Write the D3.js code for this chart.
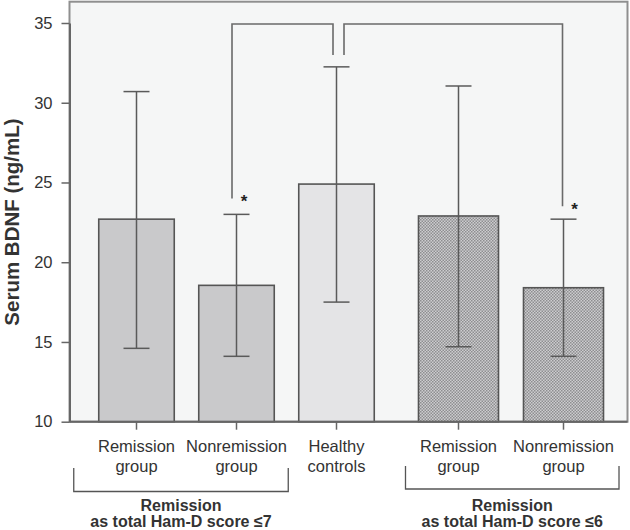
<!DOCTYPE html>
<html><head><meta charset="utf-8">
<script src="https://cdn.jsdelivr.net/npm/d3@7"></script>
<style>
html,body{margin:0;padding:0;background:#fff;}
svg{display:block;font-family:"Liberation Sans",Arial,sans-serif;}
</style></head>
<body>
<svg id="chart" width="630" height="530"></svg>
<script>
// ---- data ----
const categories = ["rem7", "non7", "healthy", "rem6", "non6"];
const groupOf = [0, 0, 0, 1, 1];
const labelLine1 = ["Remission", "Nonremission", "Healthy", "Remission", "Nonremission"];
const labelLine2 = ["group", "group", "controls", "group", "group"];
const means = [22.7, 18.55, 24.9, 22.9, 18.4];
const errUpper = [30.7, 23.0, 32.25, 31.05, 22.7];
const errLower = [14.6, 14.1, 17.5, 14.7, 14.1];
const yTicks = [10, 15, 20, 25, 30, 35];
const groupTitle1 = ["Remission", "Remission"];
const groupTitle2 = ["as total Ham-D score \u22647", "as total Ham-D score \u22646"];
const yTitle = "Serum BDNF (ng/mL)";
const sigPairs = [["non7", "healthy"], ["non6", "healthy"]];

// ---- styles ----
const fillStyle = ["solid", "solid", "light", "pattern", "pattern"];
const svg = d3.select("#chart");
const defs = svg.append("defs");
const pat = defs.append("pattern").attr("id", "chk").attr("patternUnits", "userSpaceOnUse")
  .attr("width", 3).attr("height", 3);
pat.append("rect").attr("width", 3).attr("height", 3).attr("fill", "#cdcdcf");
pat.append("rect").attr("width", 1.5).attr("height", 1.5).attr("fill", "#8e8e90");
pat.append("rect").attr("x", 1.5).attr("y", 1.5).attr("width", 1.5).attr("height", 1.5).attr("fill", "#8e8e90");
const fillColor = s => s === "solid" ? "#c9c9cb" : s === "light" ? "#e4e4e6" : "url(#chk)";

// ---- scales ----
const y = d3.scaleLinear().domain([10, 35]).range([421.7, 23]);
const plotLeft = 69.5, plotRight = 627.5, plotTop = 1.7;
const keysA = categories.filter((c, i) => groupOf[i] === 0);
const keysB = categories.filter((c, i) => groupOf[i] === 1);
const xA = d3.scaleBand().domain(keysA).range([86.5, 386.5]).paddingInner(0.245).paddingOuter(0.1225);
const xB = d3.scaleBand().domain(keysB).range([406, 616]).paddingInner(0.238).paddingOuter(0.119);
const scaleFor = i => groupOf[i] === 0 ? xA : xB;
const xLeft = i => scaleFor(i)(categories[i]);
const bw = i => scaleFor(i).bandwidth();
const xCenter = i => xLeft(i) + bw(i) / 2;
const idx = k => categories.indexOf(k);

// plot background
svg.append("rect").attr("x", plotLeft).attr("y", plotTop)
  .attr("width", plotRight - plotLeft).attr("height", y(10) - plotTop)
  .attr("fill", "#f5f6f6").attr("stroke", "#8f8f8f").attr("stroke-width", 2);

// bars
const bars = svg.append("g");
categories.forEach((c, i) => {
  bars.append("rect")
    .attr("x", xLeft(i)).attr("y", y(means[i]))
    .attr("width", bw(i)).attr("height", y(10) - y(means[i]))
    .attr("fill", fillColor(fillStyle[i]))
    .attr("stroke", "#555").attr("stroke-width", 1.6);
});

// error bars
const eb = svg.append("g").attr("stroke", "#5a5a5a").attr("stroke-width", 1.5);
categories.forEach((c, i) => {
  const cx = xCenter(i);
  eb.append("line").attr("x1", cx).attr("x2", cx).attr("y1", y(errUpper[i])).attr("y2", y(errLower[i]));
  eb.append("line").attr("x1", cx - 13).attr("x2", cx + 13).attr("y1", y(errUpper[i])).attr("y2", y(errUpper[i]));
  eb.append("line").attr("x1", cx - 13).attr("x2", cx + 13).attr("y1", y(errLower[i])).attr("y2", y(errLower[i]));
});

// y axis
const yAxis = d3.axisLeft(y).tickValues(yTicks).tickSize(8).tickPadding(9).tickSizeOuter(0);
const gy = svg.append("g").attr("transform", `translate(${plotLeft},0)`).call(yAxis);
gy.select(".domain").attr("stroke", "#666").attr("stroke-width", 2);
gy.selectAll(".tick line").attr("stroke", "#666").attr("stroke-width", 1.5);
gy.selectAll(".tick text").attr("fill", "#333").style("font-size", "16.5px")
  .style("font-family", "'Liberation Sans',Arial,sans-serif");

// baseline
svg.append("line").attr("x1", plotLeft).attr("x2", plotRight).attr("y1", y(10)).attr("y2", y(10))
  .attr("stroke", "#666").attr("stroke-width", 2);

// x ticks and labels
const xl = svg.append("g");
categories.forEach((c, i) => {
  const cx = xCenter(i);
  xl.append("line").attr("x1", cx).attr("x2", cx).attr("y1", y(10)).attr("y2", y(10) + 8)
    .attr("stroke", "#666").attr("stroke-width", 1.5);
  xl.append("text").attr("x", cx).attr("y", 452).attr("text-anchor", "middle")
    .attr("fill", "#333").style("font-size", "16.5px").text(labelLine1[i]);
  xl.append("text").attr("x", cx).attr("y", 472).attr("text-anchor", "middle")
    .attr("fill", "#333").style("font-size", "16.5px").text(labelLine2[i]);
});

// group brackets under axis
[0, 1].forEach(g => {
  const members = categories.map((c, i) => i).filter(i => groupOf[i] === g && labelLine2[i] === "group");
  const x0 = xLeft(members[0]) - (g === 0 ? 25 : 13);
  const x1 = xLeft(members[members.length - 1]) + bw(members[members.length - 1]) + (g === 0 ? 14 : 15.5);
  const top = g === 0 ? 468 : 466, bot = g === 0 ? 491.5 : 489;
  svg.append("path").attr("d", `M${x0},${top}V${bot}H${x1}V${top}`)
    .attr("fill", "none").attr("stroke", "#555").attr("stroke-width", 1.3);
  const cx = (x0 + x1) / 2;
  svg.append("text").attr("x", cx).attr("y", 510.5).attr("text-anchor", "middle")
    .attr("fill", "#333").style("font-size", "16px").style("font-weight", "bold").text(groupTitle1[g]);
  svg.append("text").attr("x", cx).attr("y", 527).attr("text-anchor", "middle")
    .attr("fill", "#333").style("font-size", "16px").style("font-weight", "bold").text(groupTitle2[g]);
});

// significance brackets
const sg = svg.append("g").attr("fill", "none").attr("stroke", "#6a6a6a").attr("stroke-width", 1.6);
const topY = 24;
const midX = xCenter(idx("healthy")) + 2;
sigPairs.forEach(([a, b], k) => {
  const ia = idx(a);
  const ax = xCenter(ia) + (k === 0 ? -4.5 : -1);
  const ay = y(errUpper[ia]) - (k === 0 ? 16 : 13);
  const mx = midX + (k === 0 ? -5.5 : 5.5);
  sg.append("path").attr("d", `M${ax},${ay}V${topY}H${mx}V55`);
  svg.append("text").attr("x", xCenter(ia) + (k === 0 ? 7.5 : 11)).attr("y", ay + 9)
    .attr("text-anchor", "middle").attr("fill", "#222")
    .style("font-size", "17px").style("font-weight", "bold").text("*");
});

// y title
svg.append("text").attr("transform", `translate(19,222) rotate(-90)`)
  .attr("text-anchor", "middle").attr("fill", "#333")
  .style("font-size", "20.5px").style("font-weight", "bold").text(yTitle);
</script>
</body></html>
